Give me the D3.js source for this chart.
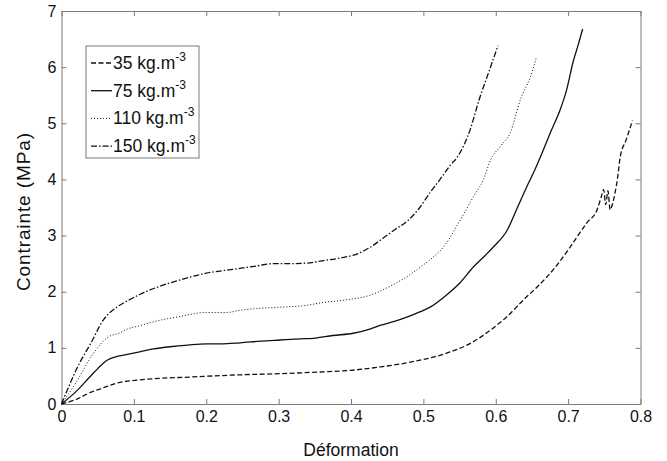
<!DOCTYPE html>
<html>
<head>
<meta charset="utf-8">
<script src="https://cdn.jsdelivr.net/npm/d3@7"></script>
<style>
  body { margin: 0; background: #fff; }
  svg { display: block; font-family: "Liberation Sans", Arial, Helvetica, sans-serif; }
  .axis path, .axis line { stroke: #7a7a7a; stroke-width: 1; }
  .axis text { fill: #111; font-size: 16px; }
</style>
</head>
<body>
<div id="chart"></div>
<script>
"use strict";
// values (strain, stress in MPa)
var strain35 = [0, 0.02, 0.039, 0.06, 0.076, 0.108, 0.14, 0.178, 0.21, 0.247, 0.3, 0.357, 0.4, 0.44, 0.48, 0.533, 0.565, 0.593, 0.615, 0.638, 0.66, 0.685, 0.703, 0.726, 0.74, 0.746, 0.749, 0.752, 0.755, 0.758, 0.762, 0.768, 0.772, 0.78, 0.789];
var stress35 = [0, 0.08, 0.2, 0.3, 0.37, 0.43, 0.46, 0.48, 0.5, 0.52, 0.54, 0.57, 0.6, 0.66, 0.74, 0.91, 1.08, 1.32, 1.55, 1.85, 2.12, 2.48, 2.8, 3.23, 3.46, 3.7, 3.82, 3.55, 3.8, 3.46, 3.6, 4.0, 4.4, 4.7, 5.05];

var strain75 = [0, 0.02, 0.039, 0.05, 0.063, 0.075, 0.086, 0.108, 0.127, 0.15, 0.175, 0.2, 0.22, 0.247, 0.275, 0.302, 0.33, 0.348, 0.375, 0.403, 0.427, 0.44, 0.46, 0.478, 0.495, 0.51, 0.53, 0.55, 0.569, 0.585, 0.597, 0.616, 0.63, 0.644, 0.655, 0.664, 0.676, 0.689, 0.698, 0.707, 0.714, 0.72];
var stress75 = [0, 0.22, 0.48, 0.63, 0.78, 0.84, 0.87, 0.93, 0.98, 1.02, 1.05, 1.07, 1.07, 1.09, 1.12, 1.14, 1.16, 1.17, 1.22, 1.26, 1.34, 1.4, 1.47, 1.55, 1.64, 1.73, 1.92, 2.15, 2.44, 2.64, 2.8, 3.1, 3.5, 3.9, 4.2, 4.47, 4.85, 5.24, 5.6, 6.1, 6.4, 6.68];

var strain110 = [0, 0.02, 0.044, 0.063, 0.081, 0.09, 0.11, 0.132, 0.16, 0.2, 0.228, 0.247, 0.28, 0.311, 0.34, 0.357, 0.39, 0.427, 0.45, 0.475, 0.496, 0.512, 0.528, 0.551, 0.569, 0.583, 0.593, 0.607, 0.62, 0.634, 0.648, 0.656];
var stress110 = [0, 0.38, 0.9, 1.18, 1.27, 1.33, 1.4, 1.48, 1.55, 1.63, 1.63, 1.67, 1.71, 1.73, 1.76, 1.8, 1.85, 1.94, 2.07, 2.25, 2.44, 2.6, 2.8, 3.28, 3.69, 4.0, 4.35, 4.6, 4.83, 5.42, 5.83, 6.17];

var strain150 = [0, 0.025, 0.04, 0.058, 0.076, 0.09, 0.108, 0.13, 0.164, 0.2, 0.238, 0.27, 0.293, 0.315, 0.339, 0.36, 0.385, 0.408, 0.425, 0.445, 0.46, 0.478, 0.495, 0.51, 0.523, 0.537, 0.547, 0.565, 0.577, 0.59, 0.603];
var stress150 = [0, 0.73, 1.07, 1.5, 1.72, 1.83, 1.95, 2.07, 2.21, 2.33, 2.4, 2.46, 2.5, 2.5, 2.51, 2.55, 2.6, 2.67, 2.78, 2.96, 3.1, 3.26, 3.5, 3.78, 4.0, 4.25, 4.4, 4.9, 5.42, 5.9, 6.38];

var densityLabels = ["35", "75", "110", "150"];
var xTicks = [0, 0.1, 0.2, 0.3, 0.4, 0.5, 0.6, 0.7, 0.8];
var yTicks = [0, 1, 2, 3, 4, 5, 6, 7];

var series = [
  { label: densityLabels[0], x: strain35, y: stress35, dash: "5,2.5" },
  { label: densityLabels[1], x: strain75, y: stress75, dash: null },
  { label: densityLabels[2], x: strain110, y: stress110, dash: "1,2" },
  { label: densityLabels[3], x: strain150, y: stress150, dash: "6,2,1.5,2" }
];

var width = 667, height = 461;
var margin = { left: 61.5, right: 26.5, top: 11, bottom: 57 };

var svg = d3.select("#chart").append("svg")
  .attr("width", width)
  .attr("height", height);

var x = d3.scaleLinear().domain([0, 0.8]).range([margin.left, width - margin.right]);
var y = d3.scaleLinear().domain([0, 7]).range([height - margin.bottom, margin.top]);

// frame with inward ticks on all four sides
svg.append("g").attr("class", "axis")
  .attr("transform", "translate(0," + y(0) + ")")
  .call(d3.axisBottom(x).tickValues(xTicks).tickSizeInner(-5).tickSizeOuter(0).tickPadding(7)
    .tickFormat(function (d) { return d === 0 ? "0" : d3.format(".1f")(d); }));
svg.append("g").attr("class", "axis")
  .attr("transform", "translate(0," + y(7) + ")")
  .call(d3.axisTop(x).tickValues(xTicks).tickSizeInner(-5).tickSizeOuter(0).tickFormat(""));
svg.append("g").attr("class", "axis")
  .attr("transform", "translate(" + x(0) + ",0)")
  .call(d3.axisLeft(y).tickValues(yTicks).tickSizeInner(-5).tickSizeOuter(0).tickPadding(5)
    .tickFormat(d3.format("d")));
svg.append("g").attr("class", "axis")
  .attr("transform", "translate(" + x(0.8) + ",0)")
  .call(d3.axisRight(y).tickValues(yTicks).tickSizeInner(-5).tickSizeOuter(0).tickFormat(""));

// curves
var line = d3.line()
  .curve(d3.curveMonotoneX)
  .x(function (d) { return x(d[0]); })
  .y(function (d) { return y(d[1]); });

svg.append("g").selectAll("path.curve")
  .data(series)
  .enter().append("path")
  .attr("class", "curve")
  .attr("d", function (s) { return line(d3.zip(s.x, s.y)); })
  .attr("fill", "none")
  .attr("stroke", "#111")
  .attr("stroke-width", function (s) { return s.dash === "1,2" ? 1 : 1.3; })
  .attr("stroke-dasharray", function (s) { return s.dash; });

// axis titles
svg.append("text")
  .attr("x", (x(0) + x(0.8)) / 2)
  .attr("y", 456)
  .attr("text-anchor", "middle")
  .style("font-size", "17.5px")
  .attr("fill", "#111")
  .text("Déformation");

svg.append("text")
  .attr("transform", "translate(30," + 212 + ") rotate(-90)")
  .attr("text-anchor", "middle")
  .style("font-size", "19px")
  .attr("fill", "#111")
  .attr("textLength", 158)
  .attr("lengthAdjust", "spacing")
  .text("Contrainte (MPa)");

// legend
var legend = svg.append("g").attr("class", "legend");
legend.append("rect")
  .attr("x", 86).attr("y", 46)
  .attr("width", 113).attr("height", 112)
  .attr("fill", "#fff")
  .attr("stroke", "#7a7a7a");

var rows = legend.selectAll("g.row")
  .data(series)
  .enter().append("g")
  .attr("class", "row")
  .attr("transform", function (s, i) { return "translate(0," + (63 + i * 27.7) + ")"; });

rows.append("line")
  .attr("x1", 91).attr("x2", 112)
  .attr("y1", 0).attr("y2", 0)
  .attr("stroke", "#111")
  .attr("stroke-width", function (s) { return s.dash === "1,2" ? 1 : 1.3; })
  .attr("stroke-dasharray", function (s) { return s.dash; });

var txt = rows.append("text")
  .attr("x", 113)
  .attr("y", 6)
  .style("font-size", "17.5px")
  .attr("fill", "#111");
txt.append("tspan").text(function (s) { return s.label + " kg.m"; });
txt.append("tspan")
  .attr("dy", -8)
  .style("font-size", "12px")
  .text("-3");
</script>
</body>
</html>
